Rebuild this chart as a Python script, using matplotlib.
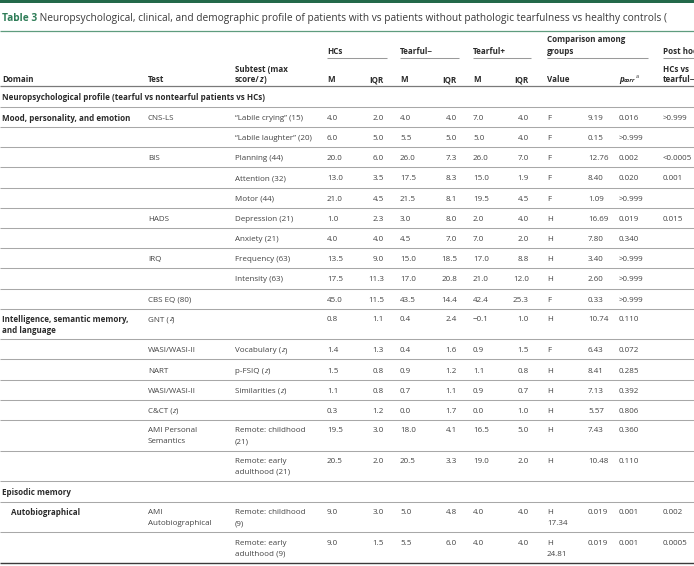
import matplotlib
matplotlib.use("Agg")
import matplotlib.pyplot as plt

plt.rcParams['font.family'] = ['Open Sans', 'DejaVu Sans']

W, H = 694, 566

# table content ------------------------------------------------------------
title_tag = "Table 3"
title_text = (" Neuropsychological, clinical, and demographic profile of patients with vs "
              "patients without pathologic tearfulness vs healthy controls (")

sections = {0: "Neuropsychological profile (tearful vs nontearful patients vs HCs)",
            17: "Episodic memory"}

domain = ["Mood, personality, and emotion", "", "", "", "", "", "", "", "", "",
          "Intelligence, semantic memory,\nand language", "", "", "", "", "", "",
          "Autobiographical", ""]
test = ["CNS-LS", "", "BIS", "", "", "HADS", "", "IRQ", "", "CBS EQ (80)",
        "GNT (*z*)", "WASI/WASI-II", "NART", "WASI/WASI-II", "C&CT (*z*)",
        "AMI Personal\nSemantics", "", "AMI\nAutobiographical", ""]
subtest = ["\u201cLabile crying\u201d (15)", "\u201cLabile laughter\u201d (20)", "Planning (44)",
           "Attention (32)", "Motor (44)", "Depression (21)", "Anxiety (21)",
           "Frequency (63)", "Intensity (63)", "", "", "Vocabulary (*z*)", "p-FSIQ (*z*)",
           "Similarities (*z*)", "", "Remote: childhood\n(21)", "Remote: early\nadulthood (21)",
           "Remote: childhood\n(9)", "Remote: early\nadulthood (9)"]
hc_m = [4.0, 6.0, 20.0, 13.0, 21.0, 1.0, 4.0, 13.5, 17.5, 45.0, 0.8, 1.4, 1.5, 1.1, 0.3, 19.5, 20.5, 9.0, 9.0]
hc_iqr = [2.0, 5.0, 6.0, 3.5, 4.5, 2.3, 4.0, 9.0, 11.3, 11.5, 1.1, 1.3, 0.8, 0.8, 1.2, 3.0, 2.0, 3.0, 1.5]
tn_m = [4.0, 5.5, 26.0, 17.5, 21.5, 3.0, 4.5, 15.0, 17.0, 43.5, 0.4, 0.4, 0.9, 0.7, 0.0, 18.0, 20.5, 5.0, 5.5]
tn_iqr = [4.0, 5.0, 7.3, 8.3, 8.1, 8.0, 7.0, 18.5, 20.8, 14.4, 2.4, 1.6, 1.2, 1.1, 1.7, 4.1, 3.3, 4.8, 6.0]
tp_m = [7.0, 5.0, 26.0, 15.0, 19.5, 2.0, 7.0, 17.0, 21.0, 42.4, -0.1, 0.9, 1.1, 0.9, 0.0, 16.5, 19.0, 4.0, 4.0]
tp_iqr = [4.0, 4.0, 7.0, 1.9, 4.5, 4.0, 2.0, 8.8, 12.0, 25.3, 1.0, 1.5, 0.8, 0.7, 1.0, 5.0, 2.0, 4.0, 4.0]
stat_test = ["F", "F", "F", "F", "F", "H", "H", "H", "H", "F", "H", "F", "H", "H", "H", "H", "H",
             "H\n17.34", "H\n24.81"]
stat_value = ["9.19", "0.15", "12.76", "8.40", "1.09", "16.69", "7.80", "3.40", "2.60", "0.33",
              "10.74", "6.43", "8.41", "7.13", "5.57", "7.43", "10.48", "0.019", "0.019"]
p_corr = ["0.016", ">0.999", "0.002", "0.020", ">0.999", "0.019", "0.340", ">0.999", ">0.999",
          ">0.999", "0.110", "0.072", "0.285", "0.392", "0.806", "0.360", "0.110", "0.001", "0.001"]
posthoc = [">0.999", "", "<0.0005", "0.001", "", "0.015", "", "", "", "", "", "", "", "", "",
           "", "", "0.002", "0.0005"]

# style --------------------------------------------------------------------
FS = 5.8
TFS = 7.3
LH = 11
TXT = '#444444'
DARK = '#2b2b2b'
GREEN = '#2f7d58'
LINE = '#a8a8a8'

X_DOM, X_TEST, X_SUB = 2, 148, 235
X_HCM, X_HCIQR = 327, 384
X_TNM, X_TNIQR = 400, 457
X_TPM, X_TPIQR = 473, 529
X_STAT, X_VAL, X_P, X_POST = 547, 588, 619, 663

fig = plt.figure(figsize=(W / 100, H / 100), dpi=100)
ax = fig.add_axes([0, 0, 1, 1])
ax.set_xlim(0, W)
ax.set_ylim(H, 0)
ax.axis('off')
rend = fig.canvas.get_renderer()


def seg(x, y, s, size=FS, color=TXT, weight='normal', style='normal', ha='left'):
    t = ax.text(x, y, s, fontsize=size, color=color, fontweight=weight,
                fontstyle=style, va='center_baseline', ha=ha)
    return t.get_window_extent(renderer=rend).width


def rich(x, y, s, size=FS, color=TXT, weight='normal'):
    # *...* marks italic parts, \n starts a new line
    for i, line in enumerate(s.split('\n')):
        xx = x
        for j, part in enumerate(line.split('*')):
            if part:
                xx += seg(xx, y + i * LH, part, size, color, weight,
                          'italic' if j % 2 else 'normal')


def hline(y, color=LINE, lw=0.75, x0=0, x1=W):
    ax.plot([x0, x1], [y, y], color=color, lw=lw, solid_capstyle='butt')


def num(v):
    return f"{v:.1f}".replace('-', '\u2212')


# title block
ax.add_patch(plt.Rectangle((0, 0), W, 2.6, color='#23694a', lw=0))
w = seg(2, 17, title_tag, TFS, GREEN, 'bold')
seg(2 + w, 17, title_text, TFS, '#3a3a3a')
hline(31, color='#5f9c7e', lw=0.9)

# header
groups = [("HCs", X_HCM, X_HCIQR + 3), ("Tearful\u2212", X_TNM, X_TNIQR + 2),
          ("Tearful+", X_TPM, X_TPIQR + 2), ("Comparison among\ngroups", X_STAT, 648),
          ("Post hoc", X_POST, 700)]
for lab, x0, x1 in groups:
    nl = lab.count('\n')
    rich(x0, 50 - nl * LH, lab, color=DARK, weight='bold')
    hline(57.5, color='#9a9a9a', lw=0.75, x0=x0, x1=x1)

rich(X_DOM, 79, "Domain", color=DARK, weight='bold')
rich(X_TEST, 79, "Test", color=DARK, weight='bold')
rich(X_SUB, 68, "Subtest (max\nscore/*z*)", color=DARK, weight='bold')
for x in (X_HCM, X_TNM, X_TPM):
    seg(x, 79, "M", color=DARK, weight='bold')
for x in (X_HCIQR, X_TNIQR, X_TPIQR):
    seg(x, 79, "IQR", color=DARK, weight='bold', ha='right')
seg(X_STAT, 79, "Value", color=DARK, weight='bold')
w = seg(X_P, 79, "p", color=DARK, weight='bold', style='italic')
w2 = seg(X_P + w, 80.5, "corr", size=4.3, color=DARK, weight='bold', style='italic')
seg(X_P + w + w2 + 0.5, 75.5, "a", size=4.0, color=DARK)
rich(X_POST, 68, "HCs vs\ntearful\u2212", color=DARK, weight='bold')
hline(86, color='#7a7a7a', lw=0.9)

# body
SINGLE, DOUBLE, SECTION = 20.2, 30.5, 20.8
y = 86
for i in range(len(hc_m)):
    if i in sections:
        rich(X_DOM, y + SECTION / 2 + 0.5, sections[i], color=DARK, weight='bold')
        y += SECTION
        hline(y)
    cells = [domain[i], test[i], subtest[i], stat_test[i]]
    two = any('\n' in c for c in cells)
    h = DOUBLE if two else SINGLE
    ty = y + (9.8 if two else h / 2 + 0.5)
    xd = X_DOM + 9 if i >= 17 else X_DOM
    if domain[i]:
        rich(xd, ty, domain[i], color=DARK, weight='bold')
    rich(X_TEST, ty, test[i])
    rich(X_SUB, ty, subtest[i])
    seg(X_HCM, ty, num(hc_m[i]))
    seg(X_HCIQR, ty, num(hc_iqr[i]), ha='right')
    seg(X_TNM, ty, num(tn_m[i]))
    seg(X_TNIQR, ty, num(tn_iqr[i]), ha='right')
    seg(X_TPM, ty, num(tp_m[i]))
    seg(X_TPIQR, ty, num(tp_iqr[i]), ha='right')
    rich(X_STAT, ty, stat_test[i])
    seg(X_VAL, ty, stat_value[i])
    seg(X_P, ty, p_corr[i])
    if posthoc[i]:
        seg(X_POST, ty, posthoc[i])
    y += h
    if i == len(hc_m) - 1:
        hline(y, color='#3c3c3c', lw=1.0)
    else:
        hline(y)

fig.savefig('out.png', dpi=100)
